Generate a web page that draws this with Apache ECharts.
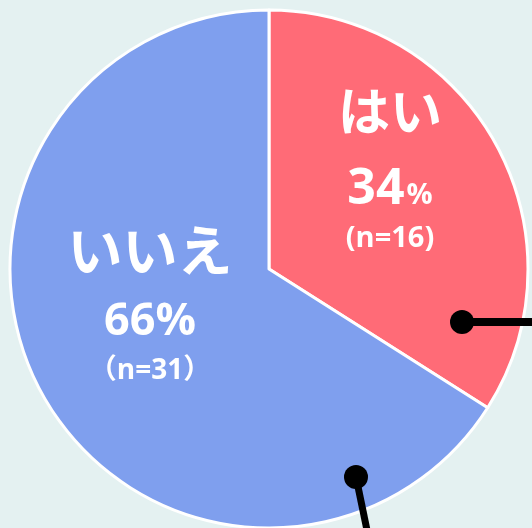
<!DOCTYPE html>
<html>

<head>
  <meta charset="utf-8">
  <title>Pie</title>
  <script src="https://cdn.jsdelivr.net/npm/echarts@6/dist/echarts.min.js"></script>
  <style>
    html, body { margin: 0; padding: 0; background: #e4f1f1; }
  </style>
</head>

<body>
  <div id="main" style="width: 532px;height:528px;"></div>
  <script type="text/javascript">
    var myChart = echarts.init(document.getElementById('main'));

    var categories = ['はい', 'いいえ'];
    var percents = [34, 66];
    var counts = ['(n=16)', '（n=31）'];
    var colors = ['#ff6b77', '#7f9fee'];

    var cx = 269, cy = 269, r = 259;

    // label block centres and line heights, one per slice
    var labelPos = [[390, 165], [150, 304]];
    var richByItem = [
      {
        a: { fontSize: 52, lineHeight: 92 },
        b: { fontSize: 50, lineHeight: 56 },
        c: { fontSize: 29, lineHeight: 56, padding: [12, 0, 0, 2] },
        d: { fontSize: 29, lineHeight: 42 }
      },
      {
        a: { fontSize: 55, lineHeight: 82 },
        b: { fontSize: 45, lineHeight: 52 },
        c: { fontSize: 45, lineHeight: 52 },
        d: { fontSize: 28, lineHeight: 46 }
      }
    ];

    var data = categories.map(function (name, i) {
      return {
        name: name,
        value: percents[i],
        itemStyle: { color: colors[i] },
        label: {
          formatter: '{a|' + name + '}\n{b|' + percents[i] + '}{c|%}\n{d|' + counts[i] + '}',
          rich: richByItem[i]
        }
      };
    });

    var option = {
      backgroundColor: '#e4f1f1',
      textStyle: { fontFamily: '"Open Sans", "Noto Sans CJK JP", sans-serif' },
      series: {
        type: 'pie',
        center: [cx, cy],
        radius: [0, r],
        startAngle: 90,
        clockwise: true,
        silent: true,
        itemStyle: { borderColor: '#fff', borderWidth: 3 },
        label: {
          position: 'inside',
          color: '#fff',
          fontWeight: 'bold',
          align: 'center',
          verticalAlign: 'middle',
          fontFamily: '"Open Sans", "Noto Sans CJK JP", sans-serif'
        },
        labelLine: { show: false },
        labelLayout: function (params) {
          var p = labelPos[params.dataIndex];
          return { x: p[0], y: p[1], align: 'center', verticalAlign: 'middle' };
        },
        data: data
      },
      graphic: [
        { type: 'line', z: 100, shape: { x1: 462, y1: 322, x2: 540, y2: 322 }, style: { stroke: '#000', lineWidth: 8 } },
        { type: 'circle', z: 101, shape: { cx: 462, cy: 322, r: 12 }, style: { fill: '#000' } },
        { type: 'line', z: 100, shape: { x1: 356, y1: 477, x2: 368, y2: 535 }, style: { stroke: '#000', lineWidth: 7 } },
        { type: 'circle', z: 101, shape: { cx: 356, cy: 477, r: 12 }, style: { fill: '#000' } }
      ]
    };

    myChart.setOption(option);
  </script>
</body>

</html>
